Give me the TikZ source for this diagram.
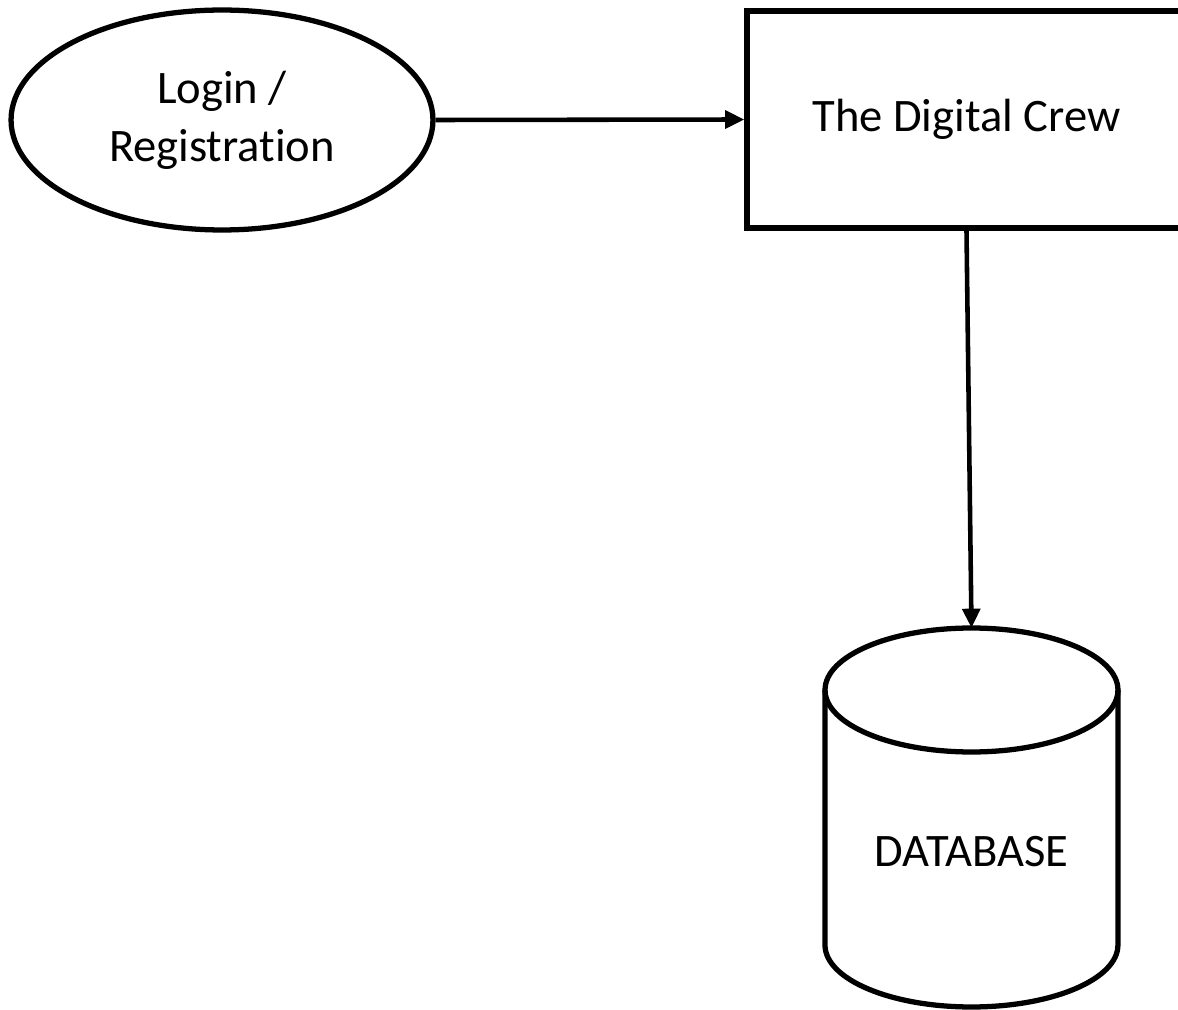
\documentclass[tikz,border=0pt]{standalone}
\usepackage{fontspec}
\setmainfont{Carlito}[Ligatures=NoCommon]
\usetikzlibrary{arrows.meta,shapes.geometric}
\def\bigtext{\fontsize{26.5}{33}\selectfont}
\tikzset{
	usecase/.style={draw, ellipse, line width=3pt, minimum width=8.44cm, minimum height=4.4cm, align=center, font=\bigtext},
	sysbox/.style={draw, rectangle, line width=3pt, minimum width=8.78cm, minimum height=4.34cm, font=\bigtext},
	store/.style={line width=3pt},
	flow/.style={line width=2.6pt, -{Triangle[length=11pt, width=10pt]}}
}

\begin{document}
\begin{tikzpicture}[x=0.02cm, y=-0.02cm]
			%%%%% START %%%%%
			
			\useasboundingbox (0, 0) rectangle (1178, 1010);
			
			\node[usecase] (login) at (222, 120) {Login /\\Registration};
			\node[sysbox] (crew) at (966.5, 119.5) {The Digital Crew};
			
			% database drum
			\draw[store] (825, 690) -- (825, 945) arc (180:360:2.93cm and 1.24cm) -- (1118, 690);
			\draw[store] (971.5, 690) ellipse (2.93cm and 1.24cm);
			\coordinate (dbtop) at (971.5, 628);
			\node[font=\bigtext] (db) at (971.5, 852) {DATABASE};
			
			\draw[flow] (login.east) -- (crew.west);
			\draw[flow] (crew.south) -- (dbtop);
			
			%%%%% END %%%%%
		\end{tikzpicture}
\end{document}
